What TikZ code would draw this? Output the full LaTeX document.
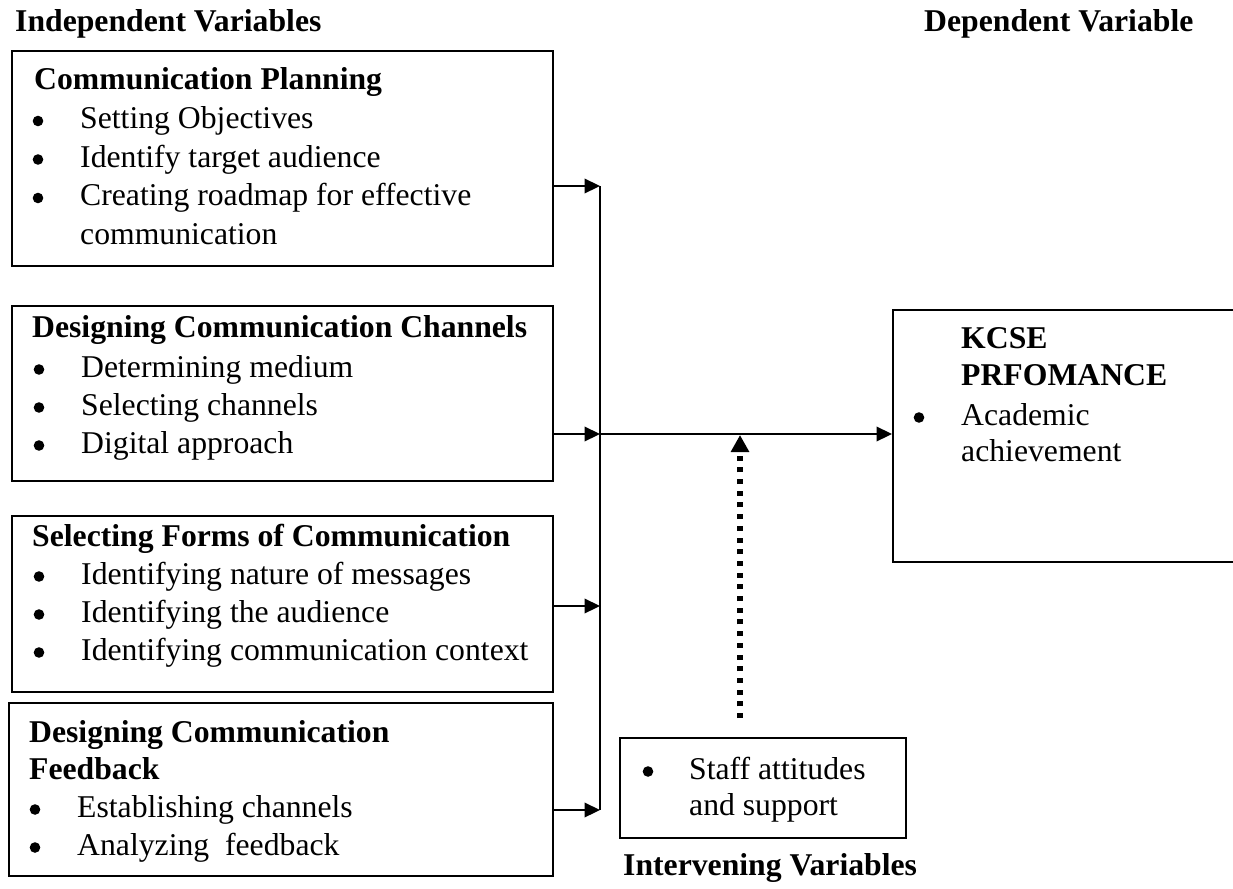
\documentclass[tikz,border=0pt]{standalone}
\usepackage{fontspec}
\setmainfont{Liberation Serif}
\usetikzlibrary{arrows.meta}
\begin{document}
\begin{tikzpicture}[x=1pt,y=-1pt,
  box/.style={draw, line width=2pt, inner sep=0pt, anchor=north west},
  txt/.style={anchor=base west, inner sep=0pt, font=\fontsize{31.7}{38}\selectfont},
  hd/.style={anchor=base west, inner sep=0pt, font=\fontsize{31.7}{38}\selectfont\bfseries},
  bul/.style={circle, fill, inner sep=0pt, minimum size=10.6pt, yshift=7.5pt},
  arr/.style={line width=2.2pt, -{Triangle[length=15.5pt,width=14.5pt]}},
  dots/.style={line width=5.5pt, dash pattern=on 5pt off 6.7pt, -{Triangle[length=17pt,width=17.5pt]}},
]
\useasboundingbox (0,0) rectangle (1233,888);

% boxes
\node[box, minimum width=541pt, minimum height=215pt] (b1) at (11,50) {};
\node[box, minimum width=541pt, minimum height=175pt] (b2) at (11,305) {};
\node[box, minimum width=541pt, minimum height=176pt] (b3) at (11,515) {};
\node[box, minimum width=544pt, minimum height=173pt] (b4) at (8,702) {};
\node[box, minimum width=360pt, minimum height=252pt] (kc) at (892,309) {};
\node[box, minimum width=286pt, minimum height=100pt] (st) at (619,737) {};

% headers
\node[hd] (tIV) at (15,32) {Independent Variables};
\node[hd] (tDV) at (924,32) {Dependent Variable};
\node[hd] (tIN) at (623,875) {Intervening Variables};

% box 1
\node[hd] (b1t) at (34,90) {Communication Planning};
\node[bul] (b1b1) at (38,128.5) {};
\node[txt] (b1x1) at (80,128.5) {Setting Objectives};
\node[bul] (b1b2) at (38,167) {};
\node[txt] (b1x2) at (80,167) {Identify target audience};
\node[bul] (b1b3) at (38,205.5) {};
\node[txt] (b1x3) at (80,205.5) {Creating roadmap for effective};
\node[txt] (b1x4) at (80,244) {communication};

% box 2
\node[hd] (b2t) at (32,337) {Designing Communication Channels};
\node[bul] (b2b1) at (39,377) {};
\node[txt] (b2x1) at (81,377) {Determining medium};
\node[bul] (b2b2) at (39,415) {};
\node[txt] (b2x2) at (81,415) {Selecting channels};
\node[bul] (b2b3) at (39,453) {};
\node[txt] (b2x3) at (81,453) {Digital approach};

% box 3
\node[hd] (b3t) at (32,546) {Selecting Forms of Communication};
\node[bul] (b3b1) at (39,584) {};
\node[txt] (b3x1) at (81,584) {Identifying nature of messages};
\node[bul] (b3b2) at (39,622) {};
\node[txt] (b3x2) at (81,622) {Identifying the audience};
\node[bul] (b3b3) at (39,660) {};
\node[txt] (b3x3) at (81,660) {Identifying communication context};

% box 4
\node[hd] (b4t1) at (29,742) {Designing Communication};
\node[hd] (b4t2) at (29,779) {Feedback};
\node[bul] (b4b1) at (35,817) {};
\node[txt] (b4x1) at (77,817) {Establishing channels};
\node[bul] (b4b2) at (35,855) {};
\node[txt] (b4x2) at (77,855) {Analyzing\ \ feedback};

% KCSE box
\node[hd] (kct1) at (961,348) {KCSE};
\node[hd] (kct2) at (961,385) {PRFOMANCE};
\node[bul] (kcb1) at (919,425) {};
\node[txt] (kcx1) at (961,425) {Academic};
\node[txt] (kcx2) at (961,461) {achievement};

% staff box
\node[bul] (stb1) at (648,779) {};
\node[txt] (stx1) at (689,779) {Staff attitudes};
\node[txt] (stx2) at (689,815) {and support};

% connectors
\coordinate (j1) at (600,186);
\coordinate (j2) at (600,434);
\coordinate (j3) at (600,606);
\coordinate (j4) at (600,810);
\draw[line width=1.7pt] (j1) -- (j4);
\draw[arr] (b1.east |- j1) -- (j1);
\draw[arr] (b2.east |- j2) -- (j2);
\draw[arr] (b3.east |- j3) -- (j3);
\draw[arr] (b4.east |- j4) -- (j4);
\draw[arr] (j2) -- (kc.west |- j2);
\coordinate (d0) at (740,718);
\coordinate (d1) at (740,435);
\draw[dots] (d0) -- (d1);
\end{tikzpicture}
\end{document}
